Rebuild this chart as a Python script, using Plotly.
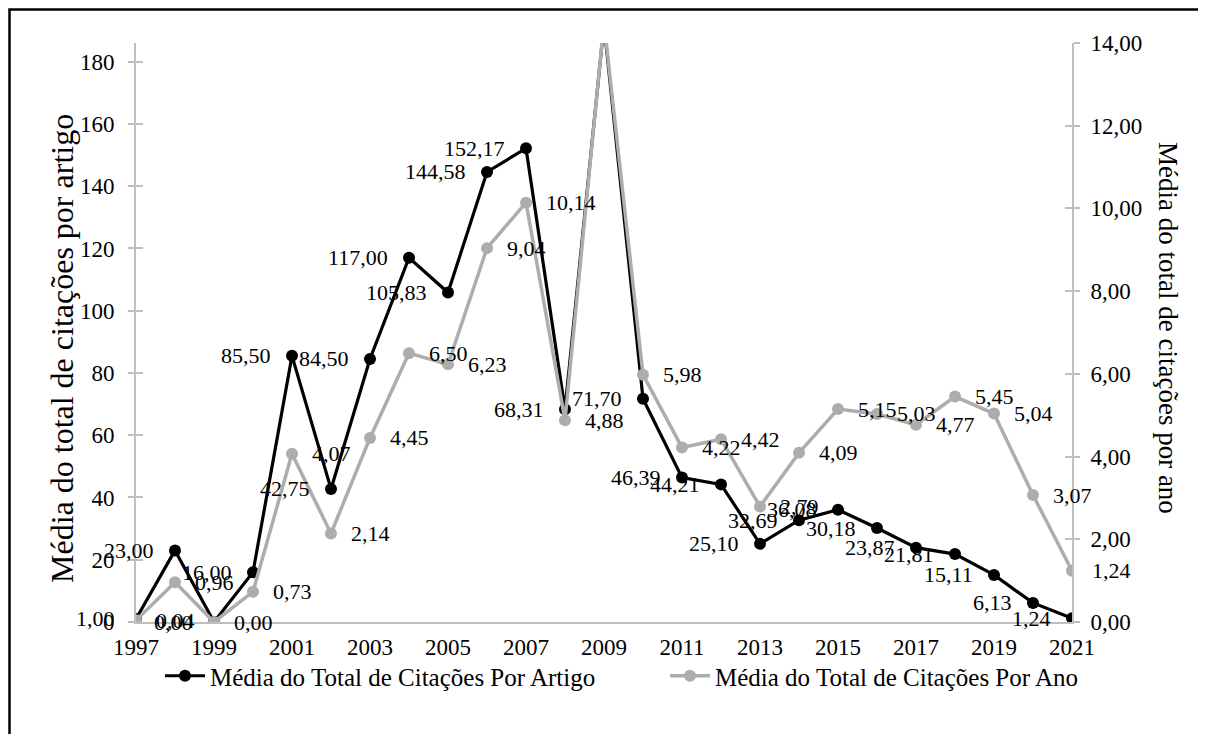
import plotly.graph_objects as go

years = list(range(1997, 2022))

# média do total de citações por artigo (eixo esquerdo)
por_artigo = [1.00, 23.00, 0.00, 16.00, 85.50, 42.75, 84.50, 117.00, 105.83, 144.58,
              152.17, 68.31, 192.00, 71.70, 46.39, 44.21, 25.10, 32.69, 36.08, 30.18,
              23.87, 21.81, 15.11, 6.13, 1.24]

# média do total de citações por ano (eixo direito)
por_ano = [0.04, 0.96, 0.00, 0.73, 4.07, 2.14, 4.45, 6.50, 6.23, 9.04,
           10.14, 4.88, 14.50, 5.98, 4.22, 4.42, 2.79, 4.09, 5.15, 5.03,
           4.77, 5.45, 5.04, 3.07, 1.24]

# 2009 fica fora da escala no original, sem rótulo
hidden_year = 2009

FONT = "Liberation Serif"
GRAY = "#ADADAD"
AXIS = "#BFBFBF"

# the page body adds an 8px margin around the figure
OFF = 8
FW, FH = 1206, 734
# plot area in page pixels: x 136..1072, y 43..622
L, R, T, B = 136 - OFF, FW - (1072 - OFF), 43 - OFF, FH - (622 - OFF)
W, H = FW - L - R, FH - T - B


def px_x(p):
    return (p - OFF - L) / W


def px_y(p):
    return (FH - B - (p - OFF)) / H


def fmt(v):
    return f"{v:.2f}".replace(".", ",")


fig = go.Figure()

fig.add_trace(go.Scatter(
    x=years, y=por_artigo,
    mode="lines+markers",
    name="Média do Total de Citações Por Artigo",
    line=dict(color="black", width=3.2),
    marker=dict(color="black", size=12),
    yaxis="y", legend="legend",
))

fig.add_trace(go.Scatter(
    x=years, y=por_ano,
    mode="lines+markers",
    name="Média do Total de Citações Por Ano",
    line=dict(color=GRAY, width=3.5),
    marker=dict(color=GRAY, size=12),
    yaxis="y2", legend="legend2",
))

# empty traces so the inner halves of the cross tick marks get drawn
fig.add_trace(go.Scatter(x=years, y=por_artigo, mode="none", yaxis="y3",
                         showlegend=False, hoverinfo="skip"))
fig.add_trace(go.Scatter(x=years, y=por_ano, mode="none", yaxis="y4",
                         showlegend=False, hoverinfo="skip"))

annotations = []
for yr, v in zip(years, por_artigo):
    if yr == hidden_year:
        continue
    annotations.append(dict(
        x=yr, y=v, xref="x", yref="y", text=fmt(v), showarrow=False,
        xanchor="right", yanchor="middle", xshift=-19,
        font=dict(family=FONT, size=22, color="black"),
    ))
for yr, v in zip(years, por_ano):
    if yr == hidden_year:
        continue
    annotations.append(dict(
        x=yr, y=v, xref="x", yref="y2", text=fmt(v), showarrow=False,
        xanchor="left", yanchor="middle", xshift=18,
        font=dict(family=FONT, size=22, color="black"),
    ))

# axis titles (right one reads top to bottom)
annotations.append(dict(
    x=px_x(62), y=px_y(349), xref="paper", yref="paper",
    xanchor="center", yanchor="middle",
    text="Média do total de citações por artigo", textangle=-90, showarrow=False,
    font=dict(family=FONT, size=32, color="black"),
))
annotations.append(dict(
    x=px_x(1168), y=px_y(328), xref="paper", yref="paper",
    xanchor="center", yanchor="middle",
    text="Média do total de citações por ano", textangle=90, showarrow=False,
    font=dict(family=FONT, size=27, color="black"),
))

tickfont = dict(family=FONT, size=23, color="black")
legendfont = dict(family=FONT, size=25, color="black")

fig.update_layout(
    width=FW, height=FH,
    margin=dict(l=L, r=R, t=T, b=B),
    paper_bgcolor="white",
    plot_bgcolor="white",
    font=dict(family=FONT, color="black"),
    separators=",.",
    showlegend=True,
    legend=dict(
        x=px_x(160), xanchor="left", y=px_y(676), yanchor="middle",
        font=legendfont, bgcolor="rgba(0,0,0,0)", itemwidth=40,
    ),
    legend2=dict(
        x=px_x(665), xanchor="left", y=px_y(676), yanchor="middle",
        font=legendfont, bgcolor="rgba(0,0,0,0)", itemwidth=40,
    ),
    xaxis=dict(
        range=[1997, 2021], tick0=1997, dtick=2,
        showgrid=False, zeroline=False,
        showline=True, linecolor=AXIS, linewidth=2,
        ticks="", tickfont=tickfont, ticklabelstandoff=3,
    ),
    yaxis=dict(
        range=[0, 186], dtick=20,
        showgrid=False, zeroline=False,
        showline=True, linecolor=AXIS, linewidth=2,
        ticks="outside", ticklen=6, tickcolor=AXIS, tickwidth=2,
        tickfont=tickfont, ticklabelstandoff=9,
    ),
    yaxis2=dict(
        range=[0, 14], dtick=2, tickformat=".2f",
        overlaying="y", side="right",
        showgrid=False, zeroline=False,
        showline=True, linecolor=AXIS, linewidth=2,
        ticks="outside", ticklen=6, tickcolor=AXIS, tickwidth=2,
        tickfont=tickfont, ticklabelstandoff=6,
    ),
    yaxis3=dict(
        range=[0, 186], dtick=20, overlaying="y", anchor="x", side="left",
        showgrid=False, zeroline=False, showline=False, showticklabels=False,
        ticks="inside", ticklen=7, tickcolor=AXIS, tickwidth=2,
    ),
    yaxis4=dict(
        range=[0, 14], dtick=2, overlaying="y", anchor="x", side="right",
        showgrid=False, zeroline=False, showline=False, showticklabels=False,
        ticks="inside", ticklen=7, tickcolor=AXIS, tickwidth=2,
    ),
    annotations=annotations,
    # chart-area border; left/top edges sit just inside the figure
    shapes=[dict(
        type="rect", xref="paper", yref="paper", layer="above",
        x0=-(L - 1.5) / W, x1=px_x(1215), y0=px_y(745), y1=(H + T - 1.5) / H,
        line=dict(color="black", width=2.5),
    )],
)

fig.write_html("out.html")
